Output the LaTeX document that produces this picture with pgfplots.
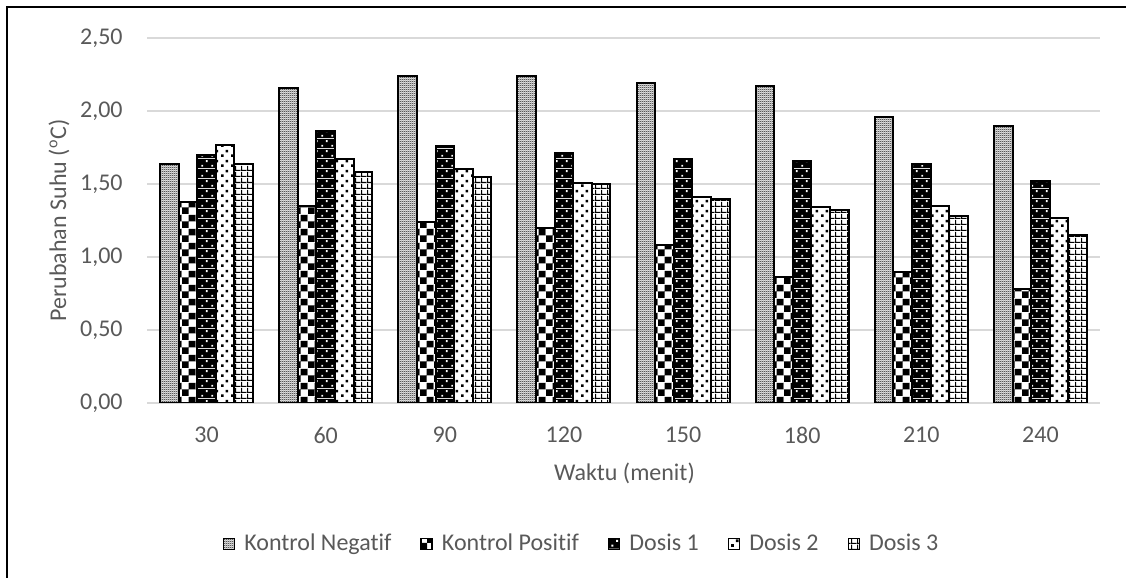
\documentclass[border=0pt]{standalone}
\usepackage{pgfplots}
\pgfplotsset{compat=1.18}
\usepackage{pgfplotstable}
\usepackage{fontspec}
\setmainfont{Carlito}[Ligatures=NoCommon]
\usetikzlibrary{patterns}

\definecolor{txt}{HTML}{595959}
\definecolor{grd}{HTML}{D9D9D9}

% bar fills, coloured patterns
\pgfdeclarepatterninherentlycolored{kn}{\pgfpointorigin}{\pgfpoint{1pt}{1pt}}{\pgfpoint{1pt}{1pt}}{%
  \pgfsetfillcolor{white}\pgfpathrectangle{\pgfpointorigin}{\pgfpoint{1pt}{1pt}}\pgfusepath{fill}%
  \pgfsetfillcolor{black}%
  \pgfpathrectangle{\pgfpointorigin}{\pgfpoint{0.5pt}{0.5pt}}%
  \pgfpathrectangle{\pgfpoint{0.5pt}{0.5pt}}{\pgfpoint{0.5pt}{0.5pt}}\pgfusepath{fill}}
\pgfdeclarepatterninherentlycolored{kp}{\pgfpointorigin}{\pgfpoint{7pt}{7pt}}{\pgfpoint{7pt}{7pt}}{%
  \pgfsetfillcolor{white}\pgfpathrectangle{\pgfpointorigin}{\pgfpoint{7pt}{7pt}}\pgfusepath{fill}%
  \pgfsetfillcolor{black}%
  \pgfpathrectangle{\pgfpointorigin}{\pgfpoint{3.5pt}{3.5pt}}%
  \pgfpathrectangle{\pgfpoint{3.5pt}{3.5pt}}{\pgfpoint{3.5pt}{3.5pt}}\pgfusepath{fill}}
\pgfdeclarepatterninherentlycolored{dA}{\pgfpointorigin}{\pgfpoint{5pt}{5pt}}{\pgfpoint{5pt}{5pt}}{%
  \pgfsetfillcolor{black}\pgfpathrectangle{\pgfpointorigin}{\pgfpoint{5pt}{5pt}}\pgfusepath{fill}%
  \pgfsetfillcolor{white}%
  \pgfpathrectangle{\pgfpoint{0.75pt}{0.75pt}}{\pgfpoint{1pt}{1pt}}%
  \pgfpathrectangle{\pgfpoint{3.25pt}{3.25pt}}{\pgfpoint{1pt}{1pt}}\pgfusepath{fill}}
\pgfdeclarepatterninherentlycolored{dB}{\pgfpointorigin}{\pgfpoint{5pt}{5pt}}{\pgfpoint{5pt}{5pt}}{%
  \pgfsetfillcolor{white}\pgfpathrectangle{\pgfpointorigin}{\pgfpoint{5pt}{5pt}}\pgfusepath{fill}%
  \pgfsetfillcolor{black}%
  \pgfpathrectangle{\pgfpoint{0.6pt}{0.6pt}}{\pgfpoint{1.4pt}{1.4pt}}%
  \pgfpathrectangle{\pgfpoint{3.1pt}{3.1pt}}{\pgfpoint{1.4pt}{1.4pt}}\pgfusepath{fill}}
\pgfdeclarepatterninherentlycolored{dC}{\pgfpointorigin}{\pgfpoint{2.8pt}{2.8pt}}{\pgfpoint{2.8pt}{2.8pt}}{%
  \pgfsetfillcolor{white}\pgfpathrectangle{\pgfpointorigin}{\pgfpoint{2.8pt}{2.8pt}}\pgfusepath{fill}%
  \pgfsetfillcolor{black}%
  \pgfpathrectangle{\pgfpointorigin}{\pgfpoint{2.8pt}{0.55pt}}%
  \pgfpathrectangle{\pgfpointorigin}{\pgfpoint{0.55pt}{2.8pt}}\pgfusepath{fill}}

\pgfplotstableread{
x   kn   kp   dA   dB   dC
0  1.64 1.38 1.70 1.77 1.64
1  2.16 1.35 1.86 1.67 1.58
2  2.24 1.24 1.76 1.60 1.55
3  2.24 1.20 1.71 1.51 1.50
4  2.19 1.08 1.67 1.41 1.40
5  2.17 0.86 1.66 1.34 1.32
6  1.96 0.90 1.64 1.35 1.28
7  1.90 0.78 1.52 1.27 1.15
}\suhu

\begin{document}
\begin{tikzpicture}[font=\fontsize{12}{14}\selectfont]
\useasboundingbox (0,0) rectangle (563pt,289pt);
\draw[line width=1pt] (3.65pt,-1pt) -- (3.65pt,285.35pt) -- (564pt,285.35pt);
\begin{axis}[
    at={(73.5pt,87.5pt)}, anchor=south west,
    scale only axis,
    width=476.5pt, height=182.5pt,
    ybar=0pt, bar width=9.3pt,
    xmin=-0.5, xmax=7.5,
    ymin=0, ymax=2.5,
    ytick={0,0.5,...,2.5},
    xtick=data,
    xticklabels={30,60,90,120,150,180,210,240},
    major tick length=0pt,
    axis x line*=bottom,
    axis y line*=left,
    y axis line style={draw=none},
    x axis line style={draw=grd, line width=0.75pt, -},
    ymajorgrids,
    grid style={draw=grd, line width=0.75pt},
    tick label style={text=txt, inner sep=0pt},
    xticklabel style={anchor=north, yshift=-12pt},
    yticklabel style={anchor=east, xshift=-12pt},
    /pgf/number format/.cd, fixed, fixed zerofill, precision=2, use comma, assume math mode=true,
    /pgfplots/.cd,
    xlabel={Waktu (menit)},
    ylabel={Perubahan Suhu (\textsuperscript{o}C)},
    x label style={at={(axis description cs:0.501,-0.192)}, anchor=center, text=txt},
    y label style={at={(axis description cs:-0.0923,0.5)}, anchor=center, text=txt},
    legend columns=-1,
    legend style={at={(0.455,-0.386)}, anchor=center, draw=none, fill=none,
        text=txt, inner sep=0pt, nodes={inner sep=0pt},
        /tikz/every odd column/.append style={column sep=4.5pt},
        /tikz/every even column/.append style={column sep=14.5pt}},
    legend cell align=left,
    legend image code/.code={\draw[#1, line width=0.75pt] (0pt,-2.75pt) rectangle (5.5pt,2.75pt);},
]
\addplot[draw=black, line width=1pt, pattern=kn] table[x=x, y=kn] {\suhu};
\addplot[draw=black, line width=1pt, pattern=kp] table[x=x, y=kp] {\suhu};
\addplot[draw=black, line width=1pt, pattern=dA] table[x=x, y=dA] {\suhu};
\addplot[draw=black, line width=1pt, pattern=dB] table[x=x, y=dB] {\suhu};
\addplot[draw=black, line width=1pt, pattern=dC] table[x=x, y=dC] {\suhu};
\legend{Kontrol Negatif, Kontrol Positif, Dosis 1, Dosis 2, Dosis 3}
\end{axis}
\end{tikzpicture}
\end{document}
